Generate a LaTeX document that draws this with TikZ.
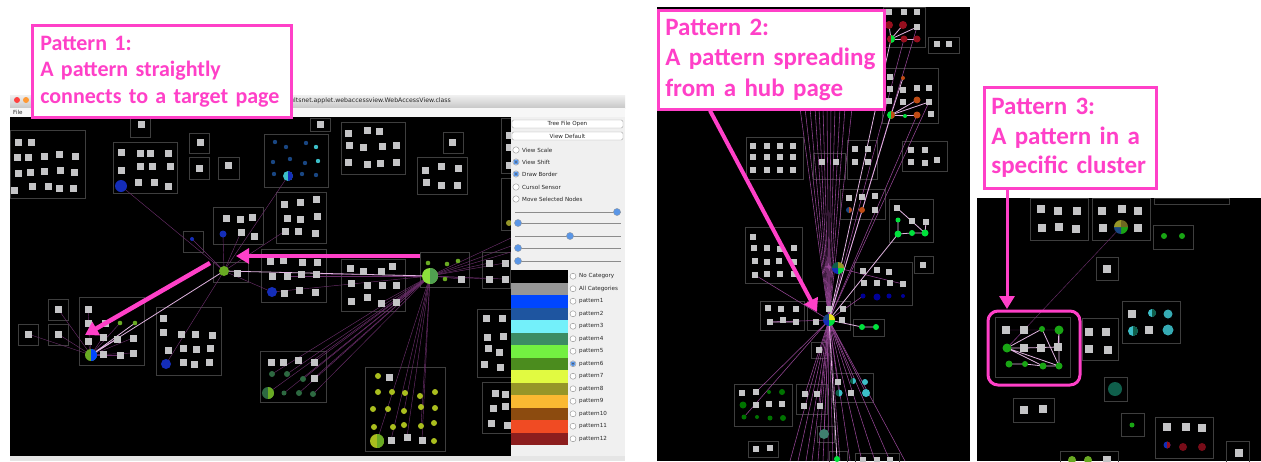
\documentclass[tikz,border=0pt]{standalone}
\usepackage{fontspec}
\setmainfont{Carlito}
\newfontfamily\uifont{DejaVu Sans}
\usetikzlibrary{arrows.meta}

\definecolor{callpink}{RGB}{255,64,200}
\definecolor{pagegray}{RGB}{196,196,198}
\definecolor{boxgray}{RGB}{62,62,62}
\definecolor{linkpurple}{RGB}{105,45,105}
\definecolor{linkmid}{RGB}{150,70,150}
\definecolor{linklite}{RGB}{225,180,225}
\definecolor{knobblue}{RGB}{90,150,230}
\definecolor{dkblue}{RGB}{20,45,185}
\definecolor{stblue}{RGB}{25,70,130}
\definecolor{cyanish}{RGB}{60,190,200}
\definecolor{hubgreen}{RGB}{140,225,60}
\definecolor{hubgreenb}{RGB}{80,160,80}
\definecolor{leafgreen}{RGB}{105,170,35}
\definecolor{dkgreen}{RGB}{45,105,65}
\definecolor{ygreen}{RGB}{170,190,30}
\definecolor{brgreen}{RGB}{0,225,60}
\definecolor{clgreen}{RGB}{25,165,20}
\definecolor{dkred}{RGB}{150,15,30}
\definecolor{brown}{RGB}{190,75,20}
\definecolor{tealdk}{RGB}{15,95,75}
\definecolor{lg0}{RGB}{0,0,0}
\definecolor{lg1}{RGB}{150,150,150}
\definecolor{lg2}{RGB}{0,70,255}
\definecolor{lg3}{RGB}{30,85,160}
\definecolor{lg4}{RGB}{115,240,250}
\definecolor{lg5}{RGB}{60,140,100}
\definecolor{lg6}{RGB}{115,240,65}
\definecolor{lg7}{RGB}{75,140,30}
\definecolor{lg8}{RGB}{225,250,65}
\definecolor{lg9}{RGB}{150,150,40}
\definecolor{lg10}{RGB}{250,185,50}
\definecolor{lg11}{RGB}{140,75,15}
\definecolor{lg12}{RGB}{240,75,35}
\definecolor{lg13}{RGB}{140,30,30}

\newcommand\sq[3][7]{\fill[pagesq] ({#2-#1/2},{#3-#1/2}) rectangle ++(#1,#1);}
\newcommand\blob[4]{\fill[#1] (#2,#3) circle (#4);}
\newcommand\clus[4]{\draw[clbox] (#1,#2) rectangle (#3,#4);}
\newcommand\slice[6]{\fill[#1] (#2,#3) -- ++(#5:#4) arc[start angle=#5,end angle=#6,radius=#4] -- cycle;}
\newcommand\pie[5]{\fill[#4] (#1,#2) circle (#3);\slice{#5}{#1}{#2}{#3}{-90}{90}}
\newcommand\qpie[7]{\slice{#4}{#1}{#2}{#3}{0}{90}\slice{#5}{#1}{#2}{#3}{90}{180}%
  \slice{#6}{#1}{#2}{#3}{180}{270}\slice{#7}{#1}{#2}{#3}{270}{360}}

\begin{document}
\begin{tikzpicture}[x=1pt,y=-1pt,
  pagesq/.style={fill=pagegray},
  clbox/.style={draw=boxgray,line width=0.6pt},
  lnk/.style={draw=linkpurple,line width=0.45pt},
  midlnk/.style={draw=linkmid,line width=0.55pt},
  litelnk/.style={draw=linklite,line width=0.8pt},
  callout/.style={draw=callpink,line width=2.6pt,fill=white,text=callpink,
    align=left,anchor=north west,inner xsep=0pt,inner ysep=0pt},
  callarrow/.style={draw=callpink,line width=4.5pt,-{Triangle[length=13pt,width=15pt]}},
  uitext/.style={font=\uifont\fontsize{5.6}{6}\selectfont,text=black!85,inner sep=0pt,anchor=west},
  btn/.style={draw=black!35,fill=white,rounded corners=1.5pt,line width=0.4pt},
  radiob/.style={draw=black!45,fill=white,line width=0.4pt},
  knob/.style={fill=knobblue,draw=black!40,line width=0.3pt}]
\useasboundingbox (0,0) rectangle (1261,461);
\fill[white] (0,0) rectangle (1261,461);

% window of the applet
\shade[top color=black!6,bottom color=black!22] (10,95) rectangle (625,108);
\fill[black!3] (10,108) rectangle (625,117);
\fill[black!10] (10,456) rectangle (625,461);
\fill[red!75] (17,100) circle (3);
\fill[orange!80] (26,100) circle (3);
\fill[green!60!black] (35,100) circle (3);
\node[uitext] at (13,112.5) {File};
\node[uitext,font=\uifont\fontsize{6.2}{7}\selectfont] at (290,101) {ultsnet.applet.webaccessview.WebAccessView.class};
\fill[black] (10,117) rectangle (511,456);
\fill[black] (657,7) rectangle (970,461);
\fill[black] (977,198) rectangle (1261,461);

% ---- left view
\foreach \a/\b/\c/\d in {10/130/85/198,130/118/150/137,113/142/177/193,189/133/209/153,
  189/157/209/179,218/157/239/179,264/134/328/187,310/118/330/131,341/122/405/174,
  443/132/463/153,417/157/467/194,276/192/326/243,213/207/263/244,183/231/203/252,
  213/262/248/282,261/249/326/302,341/259/405/311,420/252/469/287,482/252/510/288,
  501/118/520/173,501/178/520/230,477/309/512/377,482/382/512/433,18/324/38/345,
  48/299/68/320,48/324/68/345,79/297/144/365,156/307/221/375,260/351/326/402,365/367/445/451}
  \clus{\a}{\b}{\c}{\d};

\coordinate (hubS) at (430,276);
\coordinate (hubH) at (224,271);
\coordinate (tgt) at (91,355);
\foreach \x/\y in {511/238,511/246,511/252,489/263,505/263,489/279,505/279,461/279,
  268/393,284/393,299/393,313/394,272/374,287/374,303/379,314/378,314/362,
  377/441,391/440,407/437,422/440,404/411,421/426,396/302,381/303,272/292,316/274,287/276}
  \draw[lnk] (hubS) -- (\x,\y);
\foreach \x/\y in {121/186,192/239,223/234,288/176,285/231,166/364,272/292,241/232}
  \draw[lnk] (hubH) -- (\x,\y);
\foreach \x/\y in {28/334,58/309,58/334,88/309,88/341,103/337,120/323,133/338,103/354,120/355,133/353}
  \draw[lnk] (tgt) -- (\x,\y);
\draw[litelnk] (hubS) -- (hubH) -- (tgt);
\draw[litelnk] (tgt) -- (135,323) (tgt) -- (117,339);

\foreach \x/\y in {18/142,31/142,17/157,28/157,44/156,59/154,75/156,18/173,30/172,44/171,
  60/170,74/172,14/190,32/186,48/186,59/188,73/188,141/124,
  121/152,140/153,150/153,168/153,121/170,140/166,152/166,170/166,138/182,154/182,168/186,
  200/142,199/168,228/165,320/124,
  348/133,367/130,379/131,349/145,363/147,382/146,396/145,348/162,367/164,380/163,396/162,
  452/142,425/170,441/166,458/168,426/182,441/185,457/185,
  284/204,300/202,316/199,287/218,300/219,317/216,285/231,298/231,315/233,
  226/218,240/219,252/217,241/232,254/236,237/273,
  270/261,283/260,302/262,317/262,272/276,287/276,301/274,316/274,284/293,299/290,315/292,
  350/268,363/271,381/271,392/266,351/283,367/285,382/285,396/285,351/301,367/297,381/303,396/302,
  461/279,489/263,505/263,489/279,505/279,
  486/318,502/318,487/337,503/336,488/348,499/352,484/364,500/367,
  495/393,505/394,493/408,505/406,491/423,507/425,509/135,509/147,509/165,
  28/334,58/309,58/334,88/309,88/323,105/323,103/337,88/341,117/339,133/338,103/354,120/355,133/353,
  163/318,163/332,181/334,195/334,212/335,168/350,183/348,196/349,210/348,183/362,194/364,209/362,
  271/362,283/362,298/360,314/362,314/378,389/377,391/440,407/437,422/440}
  \sq{\x}{\y};

\foreach \x/\y/\r in {121/186/6,223/234/3.5,192/239/2,272/292/5,166/364/5}
  \blob{dkblue}{\x}{\y}{\r};
\foreach \x/\y in {275/142,286/147,306/143,273/162,290/159,305/163,274/174,302/174,316/175}
  \blob{stblue}{\x}{\y}{2.2};
\blob{cyanish}{316}{147}{2.2}\blob{cyanish}{318}{161}{2.2}
\pie{288}{176}{5}{cyanish}{dkblue}
\pie{430}{276}{8}{hubgreen}{hubgreenb}
\foreach \x/\y in {428/263,447/264,458/261,445/279,120/323,135/323}
  \blob{leafgreen}{\x}{\y}{2.3};
\blob{leafgreen}{224}{271}{5}
\pie{91}{355}{6}{leafgreen}{lg2}
\foreach \x/\y/\r in {272/374/3,287/374/3,303/379/3,284/393/2.5,299/393/3,313/394/3}
  \blob{dkgreen}{\x}{\y}{\r};
\pie{268}{393}{6}{dkgreen}{leafgreen}
\foreach \x/\y in {378/376,378/392,392/392,405/393,420/396,435/392,373/409,388/409,404/411,
  421/407,435/408,374/427,393/427,404/425,421/426,434/423,434/441}
  \blob{ygreen}{\x}{\y}{3};
\pie{377}{441}{7}{ygreen}{leafgreen}
\blob{lg9}{509}{223}{3}

% control panel
\fill[black!6] (511,117) rectangle (625,456);
\draw[btn] (512,120) rectangle (623,128);
\node[uitext,anchor=center] at (567.5,124) {Tree File Open};
\draw[btn] (512,132) rectangle (623,140);
\node[uitext,anchor=center] at (567.5,136) {View Default};
\foreach \t/\y/\s in {View Scale/150/0,View Shift/162/1,Draw Border/174/1,Cursol Sensor/187/0,Move Selected Nodes/199/0}{
  \draw[radiob] (516,\y) circle (3.2);
  \ifnum\s=1 \fill[knobblue] (516,\y) circle (2.6); \fill[black!70] (516,\y) circle (0.9); \fi
  \node[uitext] at (522,\y) {\t};}
\foreach \y/\k in {212/617,223/518,236/570,248/518,261/518}{
  \draw[black!45,line width=1pt] (515,\y) -- (621,\y);
  \fill[knob] (\k,\y) circle (3.6);}
\foreach \t [count=\i from 0] in {No Category,All Categories,pattern1,pattern2,pattern3,pattern4,
  pattern5,pattern6,pattern7,pattern8,pattern9,pattern10,pattern11,pattern12}{
  \fill[lg\i] (511,{270+12.5*\i}) rectangle ++(57,12.5);
  \draw[radiob] (573,{276.25+12.5*\i}) circle (3);
  \node[uitext] at (579,{276.25+12.5*\i}) {\t};}
\fill[knobblue] (573,363.75) circle (2.4); \fill[black!70] (573,363.75) circle (0.8);

% ---- middle view
\foreach \a/\b/\c/\d in {883/7/925/47,928/37/959/53,882/68/938/123,746/137/803/179,
  813/153/845/179,847/140/877/179,902/141/947/171,840/189/885/219,889/199/933/242,
  745/227/802/283,854/262/912/305,914/256/933/273,760/301/804/330,807/301/850/330,
  853/319/884/336,811/342/827/358,832/373/873/402,734/384/792/426,796/384/827/414,
  817/426/834/442,748/441/778/457,829/451/847/465,855/453/899/465}
  \clus{\a}{\b}{\c}{\d};

\coordinate (hubM) at (829,320);
\coordinate (hubN) at (838,268);
\foreach \x in {800,805,810,815,819,823,827,831,835,840,845,852}
  \draw[midlnk] (hubM) -- (\x,108);
\foreach \x in {790,798,806,812,818,823,828,833,840,850,862,875,890,905}
  \draw[midlnk] (hubM) -- (\x,461);
\foreach \x/\y in {917/27,904/39,917/115,929/102,863/296,755/275,770/322,744/417,756/392,
  805/394,820/406,853/381,866/393,839/393,824/434}
  \draw[midlnk] (hubM) -- (\x,\y);
\draw[midlnk] (hubN) -- (903,284);
\foreach \x/\y in {891/39,891/115,898/234,862/327,837/459}
  \draw[litelnk] (hubM) -- (\x,\y);
\foreach \x/\y in {889/25,903/25,904/39,917/39,917/27} \draw[litelnk] (891,39) -- (\x,\y);
\foreach \x/\y in {903/78,917/100,917/115,905/116,929/102} \draw[litelnk] (891,115) -- (\x,\y);
\draw[litelnk] (898,220) -- (898,234) -- (912,233) -- (925,233) -- (926,222)
  (897,208) -- (925,233) (862,327) -- (876,327) (770,322) -- (796,322);

\foreach \x/\y in {889/12,904/12,917/12,917/27,937/44,949/44,890/77,890/89,903/90,917/88,
  929/88,889/101,903/102,929/102,931/114,
  753/146,767/146,780/146,793/146,753/157,767/157,780/157,793/157,753/170,767/170,780/170,793/170,
  822/162,836/162,855/149,868/149,855/162,868/162,911/150,925/150,911/162,925/163,937/160,
  849/198,862/197,875/196,875/210,897/208,912/221,926/222,
  753/237,754/248,767/248,780/249,794/248,755/261,767/262,779/261,794/262,755/275,767/274,780/274,794/274,
  863/271,877/270,889/272,864/283,877/283,890/283,903/284,923/265,
  768/308,781/309,796/309,770/322,783/320,796/322,829/309,843/309,816/322,842/320,819/350,
  838/382,851/393,742/393,756/392,756/405,769/404,782/404,805/394,817/394,804/406,820/406,
  756/449,770/448,863/460,877/460,890/460}
  \sq[6]{\x}{\y};

\foreach \x/\y/\r in {889/25/4,903/25/4,904/39/3.5,917/39/3.5} \blob{dkred}{\x}{\y}{\r};
\pie{891}{39}{4}{dkred}{brgreen}
\foreach \x/\y/\r in {903/78/2,917/100/3.5,917/115/3.5,862/210/3} \blob{brown}{\x}{\y}{\r};
\blob{brgreen}{905}{116}{2}
\pie{891}{115}{4}{brgreen}{brown}
\pie{849}{210}{3}{stblue}{brown}
\foreach \x/\y/\r in {898/220/2.5,898/234/3.5,912/233/3,925/233/3.5,862/327/3,876/327/3,837/459/3}
  \blob{brgreen}{\x}{\y}{\r};
\foreach \x/\y/\r in {863/296/2.5,877/297/3.5,889/296/2.5,903/296/2}
  \blob{blue!60!black}{\x}{\y}{\r};
\pie{853}{381}{3}{tealdk}{cyanish}
\pie{839}{393}{3.5}{tealdk}{cyanish}
\blob{cyanish}{865}{382}{3}\blob{cyanish}{866}{393}{4}
\foreach \x/\y/\r in {769/392/2,782/392/3,743/405/3.5,744/417/2.5,757/417/2,770/418/2.5,783/418/3}
  \blob{green!45!black}{\x}{\y}{\r};
\blob{tealdk!80}{824}{434}{5}
\qpie{829}{320}{6}{brgreen}{dkblue}{stblue}{yellow!90!black}
\qpie{838}{268}{6}{brgreen}{dkblue}{tealdk}{lg9}

% ---- right view
\foreach \a/\b/\c/\d in {1030/198/1088/240,1092/198/1150/240,1154/198/1229/204,
  1153/225/1193/249,1096/257/1118/280,995/317/1070/377,1082/318/1118/360,1122/301/1180/343,
  1104/377/1127/401,1013/398/1054/422,1121/413/1144/436,1155/417/1213/458,
  1226/441/1249/465,1060/451/1118/465}
  \clus{\a}{\b}{\c}{\d};
\coordinate (hubR) at (1121,227);
\draw[lnk] (hubR) -- (1007,348);
\draw[litelnk] (1007,348) -- (1024,348) -- (1058,347) -- (1059,330)
  (1009,364) -- (1025,364) -- (1043,366) -- (1059,366)
  (1007,348) -- (1043,366) (1007,348) -- (1059,366) (1042,329) -- (1059,366)
  (1059,330) -- (1059,366) (1007,348) -- (1042,329);
\draw[lnk] (1006,330) -- (1059,330) (1024,330) -- (1007,348);
\foreach \x/\y in {1041/209,1058/211,1077/211,1042/228,1059/227,1076/229,1102/211,1122/209,
  1138/211,1103/228,1138/228,1107/269,1006/330,1024/330,1024/348,1041/348,1058/347,
  1089/332,1106/332,1089/349,1108/350,1132/314,1149/330,1024/410,1043/409,
  1167/427,1186/427,1202/428,1239/453,1107/460}
  \sq[8]{\x}{\y};
\qpie{1121}{227}{7}{clgreen}{stblue}{lg9}{olive!70!black}
\blob{clgreen}{1164}{236}{3}\blob{clgreen}{1182}{236}{3}
\foreach \x/\y/\r in {1042/329/3,1059/330/4.5,1007/348/4.5,1009/364/3.5,1025/364/3,1043/366/3.5,1059/366/3.5}
  \blob{clgreen}{\x}{\y}{\r};
\pie{1152}{313}{4}{cyanish}{tealdk}
\pie{1133}{331}{5}{cyanish}{tealdk}
\blob{cyanish!90!black}{1168}{314}{4.5}\blob{cyanish!90!black}{1168}{330}{5.5}
\blob{tealdk}{1115}{389}{7}
\blob{clgreen}{1132}{425}{2.5}
\pie{1167}{445}{3.5}{dkblue}{dkred}
\blob{dkred!80!black}{1183}{447}{4}\blob{dkred!80!black}{1202}{447}{4}
\blob{leafgreen}{1072}{460}{4}\blob{leafgreen}{1088}{460}{4}

% ---- callouts
\node[callout,font=\fontsize{22}{26.5}\selectfont\bfseries,text width=243pt,
  minimum width=259pt,minimum height=92pt] (p1) at (31,24)
  {Pattern 1:\\A pattern straightly\\connects to a target page};
\node[callout,font=\fontsize{25}{30.5}\selectfont\bfseries,text width=212pt,
  minimum width=226pt,minimum height=99pt] (p2) at (657,9)
  {Pattern 2:\\A pattern spreading\\from a hub page};
\node[callout,font=\fontsize{25}{29.5}\selectfont\bfseries,text width=158pt,
  minimum width=172pt,minimum height=101pt] (p3) at (983,86)
  {Pattern 3:\\A pattern in a\\specific cluster};
\draw[callpink,line width=3pt,rounded corners=10pt] (988,311) rectangle (1080,385);
\coordinate (hl) at (1007,309);

\coordinate (a1s) at (420,256);
\coordinate (a1e) at (236,256);
\coordinate (a2s) at (210,263);
\coordinate (a2e) at (85,335);
\draw[callarrow] (a1s) -- (a1e);
\draw[callarrow] (a2s) -- (a2e);
\draw[callarrow,line width=4pt] ([xshift=53pt]p2.south west) -- (817,312);
\draw[callarrow,line width=3pt] ([xshift=24pt]p3.south west) -- (hl);
\end{tikzpicture}
\end{document}
